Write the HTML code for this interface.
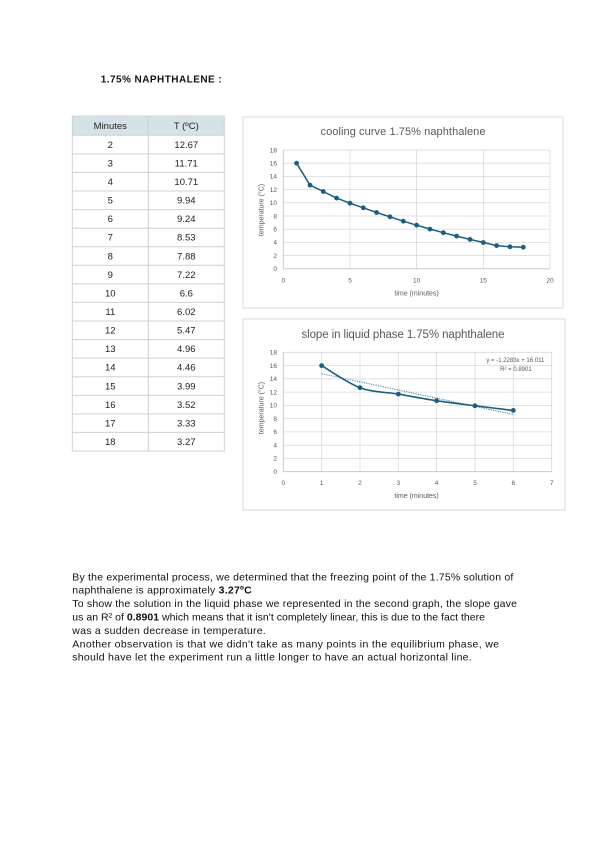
<!DOCTYPE html>
<html><head><meta charset="utf-8"><style>
html,body{margin:0;padding:0;background:#fff;}
svg{display:block;}
text{font-family:"Liberation Sans",Arial,sans-serif;}
</style></head><body>
<svg width="600" height="848" viewBox="0 0 600 848" xmlns="http://www.w3.org/2000/svg">
<rect width="600" height="848" fill="#fff"/>
<!-- Title -->
<text x="100.7" y="82.5" font-size="10" font-weight="bold" fill="#111" textLength="121" lengthAdjust="spacing">1.75% NAPHTHALENE :</text>

<!-- Table -->
<g>
<rect x="72.3" y="116" width="152" height="19.3" fill="#d5e2e7"/>
<g stroke="#d0d0d0" stroke-width="1" fill="none">
<rect x="72.3" y="116" width="152" height="335"/>
<line x1="148.3" y1="116" x2="148.3" y2="451"/>
<line x1="72.3" y1="135.3" x2="224.3" y2="135.3"/>
<line x1="72.3" y1="153.9" x2="224.3" y2="153.9"/>
<line x1="72.3" y1="172.4" x2="224.3" y2="172.4"/>
<line x1="72.3" y1="191.0" x2="224.3" y2="191.0"/>
<line x1="72.3" y1="209.6" x2="224.3" y2="209.6"/>
<line x1="72.3" y1="228.2" x2="224.3" y2="228.2"/>
<line x1="72.3" y1="246.7" x2="224.3" y2="246.7"/>
<line x1="72.3" y1="265.3" x2="224.3" y2="265.3"/>
<line x1="72.3" y1="283.9" x2="224.3" y2="283.9"/>
<line x1="72.3" y1="302.4" x2="224.3" y2="302.4"/>
<line x1="72.3" y1="321.0" x2="224.3" y2="321.0"/>
<line x1="72.3" y1="339.6" x2="224.3" y2="339.6"/>
<line x1="72.3" y1="358.1" x2="224.3" y2="358.1"/>
<line x1="72.3" y1="376.7" x2="224.3" y2="376.7"/>
<line x1="72.3" y1="395.3" x2="224.3" y2="395.3"/>
<line x1="72.3" y1="413.9" x2="224.3" y2="413.9"/>
<line x1="72.3" y1="432.4" x2="224.3" y2="432.4"/>
</g>
<g font-size="9.5" fill="#222" text-anchor="middle">
<text x="110.3" y="128.8">Minutes</text><text x="186.3" y="128.8">T (ºC)</text>
<text x="110.3" y="147.9">2</text><text x="186.3" y="147.9">12.67</text>
<text x="110.3" y="166.5">3</text><text x="186.3" y="166.5">11.71</text>
<text x="110.3" y="185.0">4</text><text x="186.3" y="185.0">10.71</text>
<text x="110.3" y="203.6">5</text><text x="186.3" y="203.6">9.94</text>
<text x="110.3" y="222.2">6</text><text x="186.3" y="222.2">9.24</text>
<text x="110.3" y="240.7">7</text><text x="186.3" y="240.7">8.53</text>
<text x="110.3" y="259.3">8</text><text x="186.3" y="259.3">7.88</text>
<text x="110.3" y="277.9">9</text><text x="186.3" y="277.9">7.22</text>
<text x="110.3" y="296.4">10</text><text x="186.3" y="296.4">6.6</text>
<text x="110.3" y="315.0">11</text><text x="186.3" y="315.0">6.02</text>
<text x="110.3" y="333.6">12</text><text x="186.3" y="333.6">5.47</text>
<text x="110.3" y="352.1">13</text><text x="186.3" y="352.1">4.96</text>
<text x="110.3" y="370.7">14</text><text x="186.3" y="370.7">4.46</text>
<text x="110.3" y="389.3">15</text><text x="186.3" y="389.3">3.99</text>
<text x="110.3" y="407.9">16</text><text x="186.3" y="407.9">3.52</text>
<text x="110.3" y="426.4">17</text><text x="186.3" y="426.4">3.33</text>
<text x="110.3" y="445.0">18</text><text x="186.3" y="445.0">3.27</text>
</g>
</g>

<!-- Chart 1 -->
<g>
<rect x="243" y="117" width="320" height="191" fill="#fff" stroke="#d9d9d9" stroke-width="1"/>
<text x="403" y="135" font-size="11" fill="#595959" text-anchor="middle" textLength="165" lengthAdjust="spacing">cooling curve 1.75% naphthalene</text>
<g stroke="#d9d9d9" stroke-width="0.8">
<line x1="283.3" y1="150" x2="550" y2="150"/>
<line x1="283.3" y1="163.2" x2="550" y2="163.2"/>
<line x1="283.3" y1="176.4" x2="550" y2="176.4"/>
<line x1="283.3" y1="189.6" x2="550" y2="189.6"/>
<line x1="283.3" y1="202.8" x2="550" y2="202.8"/>
<line x1="283.3" y1="216.0" x2="550" y2="216.0"/>
<line x1="283.3" y1="229.2" x2="550" y2="229.2"/>
<line x1="283.3" y1="242.4" x2="550" y2="242.4"/>
<line x1="283.3" y1="255.6" x2="550" y2="255.6"/>
<line x1="350" y1="150" x2="350" y2="268.8"/>
<line x1="416.6" y1="150" x2="416.6" y2="268.8"/>
<line x1="483.3" y1="150" x2="483.3" y2="268.8"/>
<line x1="550" y1="150" x2="550" y2="268.8"/>
</g>
<line x1="283.3" y1="150" x2="283.3" y2="268.8" stroke="#bfbfbf" stroke-width="0.8"/>
<line x1="283.3" y1="268.8" x2="550" y2="268.8" stroke="#bfbfbf" stroke-width="0.8"/>
<g font-size="6.5" fill="#595959" text-anchor="end">
<text x="277" y="152.3">18</text><text x="277" y="165.5">16</text><text x="277" y="178.7">14</text>
<text x="277" y="191.9">12</text><text x="277" y="205.1">10</text><text x="277" y="218.3">8</text>
<text x="277" y="231.5">6</text><text x="277" y="244.7">4</text><text x="277" y="257.9">2</text>
<text x="277" y="271.1">0</text>
</g>
<g font-size="6.5" fill="#595959" text-anchor="middle">
<text x="283.3" y="282.3">0</text><text x="350" y="282.3">5</text><text x="416.6" y="282.3">10</text>
<text x="483.3" y="282.3">15</text><text x="550" y="282.3">20</text>
<text x="416.6" y="295.5" font-size="7">time (minutes)</text>
</g>
<text transform="translate(263.3,210) rotate(-90)" font-size="7" fill="#595959" text-anchor="middle">temperature (°C)</text>
<polyline fill="none" stroke="#1a5e80" stroke-width="1.5" stroke-linejoin="round" points="296.6,163.2 310,185.2 323.3,191.5 336.6,198.1 350,203.2 363.3,207.8 376.6,212.5 390,216.8 403.3,221.2 416.6,225.2 430,229.1 443.3,232.7 456.6,236.1 470,239.4 483.3,242.5 496.6,245.6 510,246.8 523.3,247.2"/>
<g fill="#1a5e80">
<circle cx="296.6" cy="163.2" r="2.4"/><circle cx="310" cy="185.2" r="2.4"/><circle cx="323.3" cy="191.5" r="2.4"/>
<circle cx="336.6" cy="198.1" r="2.4"/><circle cx="350" cy="203.2" r="2.4"/><circle cx="363.3" cy="207.8" r="2.4"/>
<circle cx="376.6" cy="212.5" r="2.4"/><circle cx="390" cy="216.8" r="2.4"/><circle cx="403.3" cy="221.2" r="2.4"/>
<circle cx="416.6" cy="225.2" r="2.4"/><circle cx="430" cy="229.1" r="2.4"/><circle cx="443.3" cy="232.7" r="2.4"/>
<circle cx="456.6" cy="236.1" r="2.4"/><circle cx="470" cy="239.4" r="2.4"/><circle cx="483.3" cy="242.5" r="2.4"/>
<circle cx="496.6" cy="245.6" r="2.4"/><circle cx="510" cy="246.8" r="2.4"/><circle cx="523.3" cy="247.2" r="2.4"/>
</g>
</g>

<!-- Chart 2 -->
<g>
<rect x="243" y="319" width="322" height="191" fill="#fff" stroke="#d9d9d9" stroke-width="1"/>
<text x="403" y="338" font-size="11.5" fill="#595959" text-anchor="middle" textLength="203" lengthAdjust="spacing">slope in liquid  phase 1.75% naphthalene</text>
<g stroke="#d9d9d9" stroke-width="0.8">
<line x1="283.3" y1="352.3" x2="551.7" y2="352.3"/>
<line x1="283.3" y1="365.6" x2="551.7" y2="365.6"/>
<line x1="283.3" y1="378.8" x2="551.7" y2="378.8"/>
<line x1="283.3" y1="392.1" x2="551.7" y2="392.1"/>
<line x1="283.3" y1="405.4" x2="551.7" y2="405.4"/>
<line x1="283.3" y1="418.6" x2="551.7" y2="418.6"/>
<line x1="283.3" y1="431.9" x2="551.7" y2="431.9"/>
<line x1="283.3" y1="445.2" x2="551.7" y2="445.2"/>
<line x1="283.3" y1="458.4" x2="551.7" y2="458.4"/>
<line x1="321.6" y1="352.3" x2="321.6" y2="471.7"/>
<line x1="360" y1="352.3" x2="360" y2="471.7"/>
<line x1="398.3" y1="352.3" x2="398.3" y2="471.7"/>
<line x1="436.6" y1="352.3" x2="436.6" y2="471.7"/>
<line x1="475" y1="352.3" x2="475" y2="471.7"/>
<line x1="513.3" y1="352.3" x2="513.3" y2="471.7"/>
<line x1="551.7" y1="352.3" x2="551.7" y2="471.7"/>
</g>
<line x1="283.3" y1="352.3" x2="283.3" y2="471.7" stroke="#bfbfbf" stroke-width="0.8"/>
<line x1="283.3" y1="471.7" x2="551.7" y2="471.7" stroke="#bfbfbf" stroke-width="0.8"/>
<g font-size="6.5" fill="#595959" text-anchor="end">
<text x="277" y="354.6">18</text><text x="277" y="367.9">16</text><text x="277" y="381.1">14</text>
<text x="277" y="394.4">12</text><text x="277" y="407.7">10</text><text x="277" y="420.9">8</text>
<text x="277" y="434.2">6</text><text x="277" y="447.5">4</text><text x="277" y="460.7">2</text>
<text x="277" y="474">0</text>
</g>
<g font-size="6.5" fill="#595959" text-anchor="middle">
<text x="283.3" y="485">0</text><text x="321.6" y="485">1</text><text x="360" y="485">2</text>
<text x="398.3" y="485">3</text><text x="436.6" y="485">4</text><text x="475" y="485">5</text>
<text x="513.3" y="485">6</text><text x="551.7" y="485">7</text>
<text x="416.6" y="498" font-size="7">time (minutes)</text>
</g>
<text transform="translate(263.3,408) rotate(-90)" font-size="7" fill="#595959" text-anchor="middle">temperature (°C)</text>
<line x1="321.6" y1="373.7" x2="513.3" y2="414.4" stroke="#3a7fa0" stroke-width="1" stroke-dasharray="1.2,1.2"/>
<path fill="none" stroke="#1a5e80" stroke-width="1.6" d="M321.6,365.6 C328.0,369.3 347.2,382.95 360,387.7 C372.8,392.45 385.5,391.9 398.3,394.1 C411.1,396.3 423.8,398.75 436.6,400.7 C449.4,402.65 462.2,404.2 475,405.8 C487.8,407.4 506.9,409.6 513.3,410.4"/>
<g fill="#1a5e80">
<circle cx="321.6" cy="365.6" r="2.4"/><circle cx="360" cy="387.7" r="2.4"/><circle cx="398.3" cy="394.1" r="2.4"/>
<circle cx="436.6" cy="400.7" r="2.4"/><circle cx="475" cy="405.8" r="2.4"/><circle cx="513.3" cy="410.4" r="2.4"/>
</g>
<g font-size="6" fill="#595959" text-anchor="end">
<text x="544.3" y="362">y = -1.2283x + 16.011</text>
<text x="531.7" y="371">R² = 0.8901</text>
</g>
</g>

<!-- Paragraph -->
<g font-size="10.5" fill="#111">
<text x="72.3" y="580.3" textLength="441" lengthAdjust="spacing">By the experimental process, we determined that the freezing point of the 1.75% solution of</text>
<text x="72.3" y="593.7" textLength="179.4" lengthAdjust="spacing">naphthalene is approximately <tspan font-weight="bold">3.27ºC</tspan></text>
<text x="72.3" y="607.1" textLength="444.7" lengthAdjust="spacing">To show the solution in the liquid phase we represented in the second graph, the slope gave</text>
<text x="72.3" y="620.5" textLength="412.7" lengthAdjust="spacing">us an R² of <tspan font-weight="bold">0.8901</tspan> which means that it isn't completely linear, this is due to the fact there</text>
<text x="72.3" y="633.9" textLength="193.4" lengthAdjust="spacing">was a sudden decrease in temperature.</text>
<text x="72.3" y="647.3" textLength="426.7" lengthAdjust="spacing">Another observation is that we didn't take as many points in the equilibrium phase, we</text>
<text x="72.3" y="660.7" textLength="399.4" lengthAdjust="spacing">should have let the experiment run a little longer to have an actual horizontal line.</text>
</g>
</svg>
</body></html>
